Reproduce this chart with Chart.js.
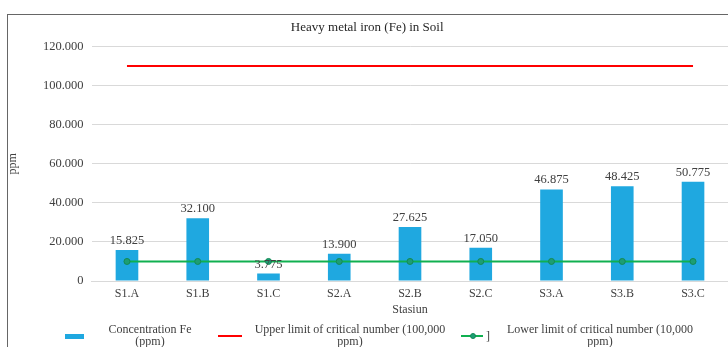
<!DOCTYPE html>
<html>
<head>
<meta charset="utf-8">
<title>Heavy metal iron (Fe) in Soil</title>
<script src="https://cdn.jsdelivr.net/npm/chart.js@4/dist/chart.umd.min.js"></script>
<style>
  html, body { margin: 0; padding: 0; background: #fff; overflow: hidden; width: 728px; height: 347px; }
  #frame { position: absolute; left: 7px; top: 14px; width: 760px; height: 400px; border: 1.5px solid #666; box-sizing: border-box; }
  #wrap { position: absolute; left: 0; top: 0; width: 740px; height: 347px; }
  #legend .txt { position: absolute; font-family: "Liberation Serif", "Times New Roman", serif; font-size: 12px; line-height: 12px; color: #404040; text-align: center; }
  #legend .mk { position: absolute; }
</style>
</head>
<body>
<div id="frame"></div>
<div id="wrap"><canvas id="chart" width="740" height="347"></canvas></div>
<div id="legend"></div>
<script>
// Sampling stations
const categories = ['S1.A', 'S1.B', 'S1.C', 'S2.A', 'S2.B', 'S2.C', 'S3.A', 'S3.B', 'S3.C'];
// Fe concentration per station (ppm)
const ironConcentration = [15825, 32100, 3775, 13900, 27625, 17050, 46875, 48425, 50775];
// Critical-number reference lines (ppm)
const upperLimit = [110000, 110000, 110000, 110000, 110000, 110000, 110000, 110000, 110000];
const lowerLimit = [10000, 10000, 10000, 10000, 10000, 10000, 10000, 10000, 10000];
// Value axis ticks
const yTicks = [0, 20000, 40000, 60000, 80000, 100000, 120000];
const seriesNames = [
  'Concentration Fe (ppm)',
  'Upper limit of critical number (100,000 ppm)',
  'Lower limit of critical number (10,000 ppm)'
];

const SERIF = "'Liberation Serif', 'Times New Roman', serif";
const TXT = '#404040';

// Indonesian style grouping: 15825 -> "15.825"
function fmt(v) {
  return Math.round(v).toString().replace(/\B(?=(\d{3})+(?!\d))/g, '.');
}

// Value labels above the bars
const barLabels = {
  id: 'barLabels',
  afterDatasetsDraw(chart) {
    const meta = chart.getDatasetMeta(0);
    const ctx = chart.ctx;
    ctx.save();
    ctx.font = '12.5px ' + SERIF;
    ctx.fillStyle = TXT;
    ctx.textAlign = 'center';
    ctx.textBaseline = 'bottom';
    meta.data.forEach((bar, i) => {
      ctx.fillText(fmt(chart.data.datasets[0].data[i]), bar.x, bar.y - 3);
    });
    ctx.restore();
  }
};

// Legend below the plot, with wrapped labels: [marker x, text left, text width]
const legendBoxes = [
  { text: [65, 102, 96],  marker: 'box' },
  { text: [218, 247, 206], marker: 'line' },
  { text: [461, 499, 202], marker: 'dot' }
];
const htmlLegend = {
  id: 'htmlLegend',
  afterUpdate(chart) {
    const host = document.getElementById('legend');
    host.innerHTML = '';
    chart.data.datasets.forEach((ds, i) => {
      const b = legendBoxes[i];
      const mx = b.text[0];
      if (b.marker === 'box') {
        const m = document.createElement('div');
        m.className = 'mk';
        Object.assign(m.style, { left: mx + 'px', top: '334px', width: '19px', height: '5px', background: ds.backgroundColor });
        host.appendChild(m);
      } else {
        const m = document.createElement('div');
        m.className = 'mk';
        Object.assign(m.style, { left: mx + 'px', top: '335px', width: (b.marker === 'dot' ? 22 : 24) + 'px', height: '2px', background: ds.borderColor });
        host.appendChild(m);
        if (b.marker === 'dot') {
          const d = document.createElement('div');
          d.className = 'mk';
          Object.assign(d.style, { left: (mx + 9) + 'px', top: '333px', width: '6px', height: '6px', borderRadius: '50%', background: ds.pointBackgroundColor, boxSizing: 'border-box', border: '1px solid ' + ds.pointBorderColor });
          host.appendChild(d);
          const br = document.createElement('div');
          br.className = 'txt';
          br.textContent = ']';
          Object.assign(br.style, { left: (mx + 25) + 'px', top: '330px' });
          host.appendChild(br);
        }
      }
      const t = document.createElement('div');
      t.className = 'txt';
      t.textContent = ds.label;
      Object.assign(t.style, { left: b.text[1] + 'px', top: '323px', width: b.text[2] + 'px' });
      host.appendChild(t);
    });
  }
};

new Chart(document.getElementById('chart'), {
  data: {
    labels: categories,
    datasets: [
      {
        type: 'bar',
        label: seriesNames[0],
        data: ironConcentration,
        backgroundColor: '#1fa8e0',
        barPercentage: 0.32,
        categoryPercentage: 1,
        order: 3
      },
      {
        type: 'line',
        label: seriesNames[1],
        data: upperLimit,
        borderColor: '#ff0000',
        borderWidth: 2,
        pointRadius: 0,
        fill: false,
        order: 2
      },
      {
        type: 'line',
        label: seriesNames[2],
        data: lowerLimit,
        borderColor: '#10b050',
        borderWidth: 2,
        pointRadius: 3,
        pointBackgroundColor: '#1d9e74',
        pointBorderColor: '#138a55',
        pointBorderWidth: 1,
        fill: false,
        order: 1
      }
    ]
  },
  options: {
    responsive: false,
    animation: false,
    layout: { padding: { left: 6, top: 14, right: 11.6, bottom: 30 } },
    plugins: {
      legend: { display: false },
      tooltip: { enabled: false },
      title: {
        display: true,
        text: 'Heavy metal iron (Fe) in Soil',
        color: '#262626',
        font: { family: SERIF, size: 13, weight: 'normal' },
        padding: { top: 6, bottom: 10.9 }
      }
    },
    scales: {
      x: {
        offset: true,
        grid: { display: false, drawTicks: false },
        border: { display: true, color: '#d9d9d9', width: 1 },
        ticks: { color: TXT, font: { family: SERIF, size: 12 }, padding: 6, maxRotation: 0 },
        title: { display: true, text: 'Stasiun', color: TXT, font: { family: SERIF, size: 12 }, padding: 0 },
        afterFit(scale) { scale.height = 36; }
      },
      y: {
        min: 0,
        max: 120000,
        afterBuildTicks(scale) { scale.ticks = yTicks.map(v => ({ value: v })); },
        grid: { color: '#d9d9d9', drawTicks: false },
        border: { display: false },
        ticks: { color: TXT, font: { family: SERIF, size: 12.5 }, padding: 8, callback: v => fmt(v) },
        title: { display: true, text: 'ppm', color: TXT, font: { family: SERIF, size: 12 }, padding: 0 },
        afterFit(scale) { scale.width = 85.6; }
      }
    }
  },
  plugins: [barLabels, htmlLegend]
});
</script>
</body>
</html>
